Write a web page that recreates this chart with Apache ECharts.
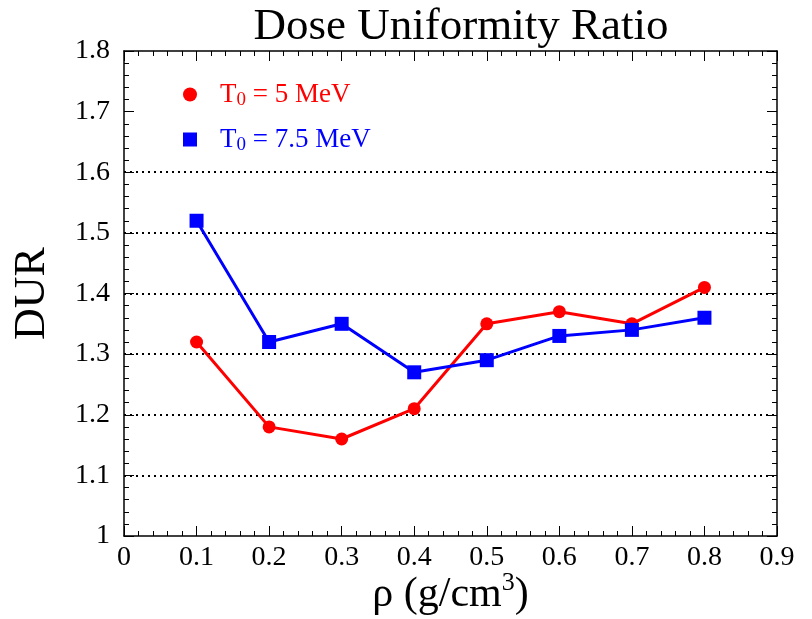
<!DOCTYPE html>
<html><head><meta charset="utf-8">
<script src="https://cdn.jsdelivr.net/npm/echarts@6/dist/echarts.min.js"></script>
<style>html,body{margin:0;padding:0;background:#fff}#c{width:812px;height:619px}</style>
</head><body><div id="c"></div>
<script>
const rho = [0.1, 0.2, 0.3, 0.4, 0.5, 0.6, 0.7, 0.8];
const dur5 = [1.32, 1.18, 1.16, 1.21, 1.35, 1.37, 1.35, 1.41];
const dur75 = [1.52, 1.32, 1.35, 1.27, 1.29, 1.33, 1.34, 1.36];
const seriesNames = ['T0 = 5 MeV', 'T0 = 7.5 MeV'];
const titleText = 'Dose Uniformity Ratio';
const yName = 'DUR';

const F = 'Liberation Serif, Times New Roman, serif';
const chart = echarts.init(document.getElementById('c'));
const tickLabel = {fontFamily: F, fontSize: 28, color: '#000'};
const gridColors = ['transparent','#000','#000','#000','#000','#000','#000','transparent','transparent'];
function mkX(pos, show) {
  return {type:'value', min:0, max:0.9, interval:0.1, position:pos,
    axisLine:{show:true, onZero:false, lineStyle:{color:'#000', width:1.5}},
    axisTick:{show:true, inside:true, length:10, lineStyle:{color:'#000'}},
    minorTick:{show:true, splitNumber:5, length:5, lineStyle:{color:'#000'}},
    axisLabel:show ? Object.assign({margin:8, formatter: v => String(+v.toFixed(1))}, tickLabel) : {show:false},
    splitLine:{show:false},
    name: show ? 'ρ (g/cm{sup|3})' : '', nameLocation:'middle', nameGap:34, nameMoveOverlap:false,
    nameTextStyle:{fontFamily:F, fontSize:42, color:'#000', rich:{sup:{fontFamily:F, fontSize:26, padding:[0,0,24,0], color:'#000'}}}
  };
}
function mkY(pos, show) {
  return {type:'value', min:1, max:1.8, interval:0.1, position:pos,
    axisLine:{show:true, onZero:false, lineStyle:{color:'#000', width:1.5}},
    axisTick:{show:true, inside:true, length:10, lineStyle:{color:'#000'}},
    minorTick:{show:true, splitNumber:5, length:5, lineStyle:{color:'#000'}},
    axisLabel:show ? Object.assign({margin:14, formatter: v => String(+v.toFixed(1))}, tickLabel) : {show:false},
    splitLine:show ? {show:true, lineStyle:{color:gridColors, type:[2,4], width:2}} : {show:false},
    name: show ? yName : '', nameLocation:'middle', nameGap:70, nameRotate:90, nameMoveOverlap:false,
    nameTextStyle:{fontFamily:F, fontSize:44, color:'#000'}
  };
}
function legendFmt(name) {
  const k = name === seriesNames[0] ? 'r' : 'b';
  return '{' + k + '|T}{' + k + 's|0}{' + k + '|' + name.slice(2) + '}';
}
chart.setOption({
  animation:false,
  backgroundColor:'#fff',
  title:{text:titleText, left:456, top:0, textAlign:'center',
    textStyle:{fontFamily:F, fontSize:45, fontWeight:'normal', color:'#000'}},
  grid:{left:124, right:35, top:51, bottom:83, containLabel:false, outerBoundsMode:'none'},
  legend:{orient:'vertical', left:178, top:76, itemGap:16, itemWidth:14, itemHeight:14,
    data:[{name:seriesNames[0], icon:'circle'}, {name:seriesNames[1], icon:'rect'}],
    formatter: legendFmt,
    textStyle:{fontFamily:F, fontSize:27, padding:[0,0,0,18],
      rich:{
        r:{fontFamily:F, fontSize:27, color:'#f00'},
        rs:{fontFamily:F, fontSize:19, color:'#f00', padding:[12,0,0,0]},
        b:{fontFamily:F, fontSize:27, color:'#00f'},
        bs:{fontFamily:F, fontSize:19, color:'#00f', padding:[12,0,0,0]}
      }}
  },
  xAxis:[mkX('bottom', true), mkX('top', false)],
  yAxis:[mkY('left', true), mkY('right', false)],
  series:[
    {name:seriesNames[0], type:'line', data:rho.map((x,i)=>[x,dur5[i]]),
     symbol:'circle', symbolSize:13, color:'#f00', lineStyle:{width:3}, z:3},
    {name:seriesNames[1], type:'line', data:rho.map((x,i)=>[x,dur75[i]]),
     symbol:'rect', symbolSize:14, color:'#00f', lineStyle:{width:3}, z:3}
  ]
});
</script></body></html>
